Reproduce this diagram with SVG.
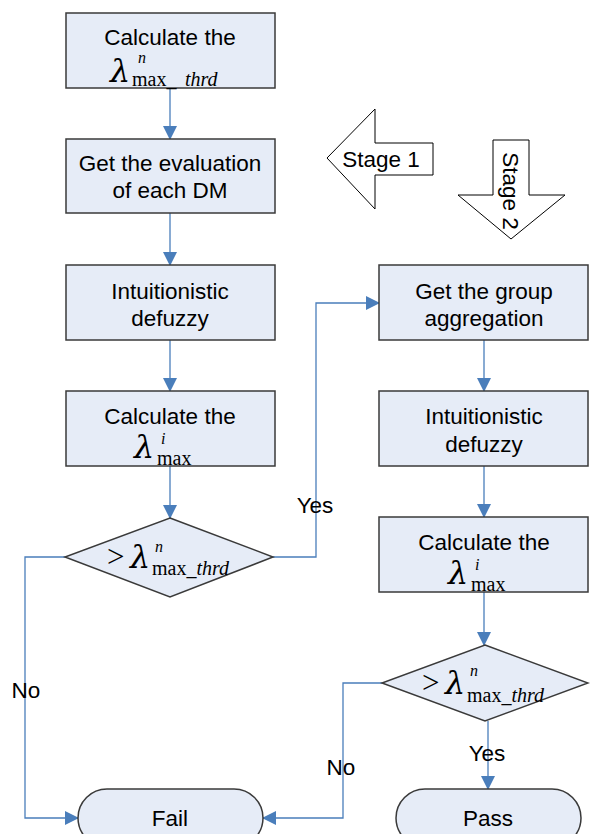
<svg xmlns="http://www.w3.org/2000/svg" width="590" height="834" viewBox="0 0 590 834">
<defs>
<marker id="ah" markerWidth="14" markerHeight="14" refX="13" refY="7" orient="auto" markerUnits="userSpaceOnUse" viewBox="0 0 14 14">
<path d="M0,0 L14,7 L0,14 z" fill="#4a7ebb"/>
</marker>
<style>
.box{fill:#e6ecf7;stroke:#3a3a3a;stroke-width:1.5}
.stage{fill:#ffffff;stroke:#000;stroke-width:1}
.t{font-family:"Liberation Sans",Arial,sans-serif;font-size:22.5px;fill:#000;text-anchor:middle}
.m{font-family:"Liberation Serif","Times New Roman",serif;font-size:20px;fill:#000}
.gt{font-family:"Liberation Serif","Times New Roman",serif;font-size:31px;fill:#000}
.l{font-family:"DejaVu Serif",serif;font-style:italic;font-size:32px;fill:#000}
.s{font-family:"Liberation Serif","Times New Roman",serif;font-style:italic;font-size:16px;fill:#000}
.c{fill:none;stroke:#4a7ebb;stroke-width:1.3}
</style>
</defs>
<g id="connectors">
<line class="c" x1="170" y1="88" x2="170" y2="139" marker-end="url(#ah)"/>
<line class="c" x1="170" y1="213" x2="170" y2="265" marker-end="url(#ah)"/>
<line class="c" x1="170" y1="340" x2="170" y2="391" marker-end="url(#ah)"/>
<line class="c" x1="170" y1="466" x2="170" y2="518" marker-end="url(#ah)"/>
<polyline class="c" points="273,557 316,557 316,303 379,303" marker-end="url(#ah)"/>
<polyline class="c" points="65,557 25,557 25,818 78,818" marker-end="url(#ah)"/>
<line class="c" x1="484" y1="340" x2="484" y2="391" marker-end="url(#ah)"/>
<line class="c" x1="484" y1="466" x2="484" y2="517" marker-end="url(#ah)"/>
<line class="c" x1="484" y1="592" x2="484" y2="645" marker-end="url(#ah)"/>
<polyline class="c" points="382,683 343,683 343,818 263,818" marker-end="url(#ah)"/>
<line class="c" x1="488" y1="721" x2="488" y2="789" marker-end="url(#ah)"/>
<text class="t" x="315" y="513">Yes</text>
<text class="t" x="26" y="698">No</text>
<text class="t" x="341" y="775">No</text>
<text class="t" x="487" y="761">Yes</text>
</g>
<g id="stage1">
<polygon class="stage" points="327,158 375,109 375,143 433,143 433,175 375,175 375,209"/>
<text class="t" x="381" y="167">Stage 1</text>
</g>
<g id="stage2">
<polygon class="stage" points="493,140 529,140 529,195 565,195 511,239 458,195 493,195"/>
<text class="t" x="0" y="0" transform="translate(503,191) rotate(90)">Stage 2</text>
</g>
<g id="n1">
<rect class="box" x="66" y="13" width="209" height="75"/>
<text class="t" x="170" y="45">Calculate the</text>
<text class="l" x="110" y="82">λ</text>
<text class="s" x="138" y="63">n</text>
<text class="m" x="132" y="86">max_</text>
<text class="m" x="185" y="86" font-style="italic">thrd</text>
</g>
<g id="n2">
<rect class="box" x="66" y="139" width="209" height="74"/>
<text class="t" x="170" y="171">Get the evaluation</text>
<text class="t" x="170" y="198">of each DM</text>
</g>
<g id="n3">
<rect class="box" x="66" y="265" width="209" height="75"/>
<text class="t" x="170" y="299">Intuitionistic</text>
<text class="t" x="170" y="326">defuzzy</text>
</g>
<g id="n4">
<rect class="box" x="66" y="391" width="209" height="75"/>
<text class="t" x="170" y="424">Calculate the</text>
<text class="l" x="134" y="458">λ</text>
<text class="s" x="161" y="444">i</text>
<text class="m" x="157" y="465">max</text>
</g>
<g id="d1">
<polygon class="box" points="170,518 273,557 170,597 65,557"/>
<text class="gt" x="107" y="567">&gt;</text>
<text class="l" x="130" y="568">λ</text>
<text class="s" x="155" y="552">n</text>
<text class="m" x="152" y="575">max_<tspan font-style="italic">thrd</tspan></text>
</g>
<g id="n5">
<rect class="box" x="379" y="265" width="209" height="75"/>
<text class="t" x="484" y="299">Get the group</text>
<text class="t" x="484" y="326">aggregation</text>
</g>
<g id="n6">
<rect class="box" x="379" y="391" width="209" height="75"/>
<text class="t" x="484" y="424">Intuitionistic</text>
<text class="t" x="484" y="452">defuzzy</text>
</g>
<g id="n7">
<rect class="box" x="379" y="517" width="209" height="75"/>
<text class="t" x="484" y="550">Calculate the</text>
<text class="l" x="448" y="584">λ</text>
<text class="s" x="475" y="570">i</text>
<text class="m" x="471" y="591">max</text>
</g>
<g id="d2">
<polygon class="box" points="485,645 588,683 485,721 382,683"/>
<text class="gt" x="422" y="693">&gt;</text>
<text class="l" x="445" y="694">λ</text>
<text class="s" x="470" y="676">n</text>
<text class="m" x="467" y="702">max_<tspan font-style="italic">thrd</tspan></text>
</g>
<g id="fail">
<rect class="box" x="78" y="789" width="185" height="58" rx="29" ry="29"/>
<text class="t" x="170" y="826">Fail</text>
</g>
<g id="pass">
<rect class="box" x="396" y="789" width="185" height="58" rx="29" ry="29"/>
<text class="t" x="488" y="826">Pass</text>
</g>
</svg>
